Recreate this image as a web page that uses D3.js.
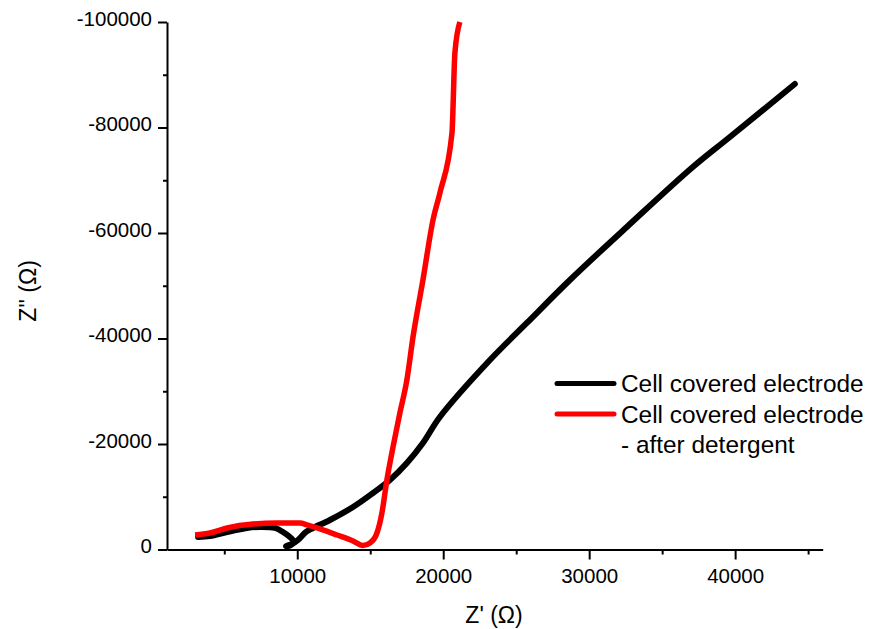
<!DOCTYPE html>
<html>
<head>
<meta charset="utf-8">
<script src="https://cdn.jsdelivr.net/npm/d3@7"></script>
<style>
  body { margin: 0; background: #fff; }
  svg { font-family: "Liberation Sans", Arial, sans-serif; }
  .axis path, .axis line { stroke: #000; stroke-width: 2px; }
  .axis text { font-size: 20.5px; fill: #000; }
</style>
</head>
<body>
<div id="content"></div>
<script>
// Z' (ohm) and Z'' (ohm)
const blackZre = [3200, 4020, 5190, 6560, 7450, 8470, 9020, 9570, 9770, 9430, 9230, 9640, 10050, 10600, 11080, 12240, 13820, 15190, 16350, 17510, 18610, 19770, 23200, 25730, 28680, 32580, 37100, 39640, 44090];
const blackZim = [-2370, -2560, -3320, -4080, -4270, -4080, -3320, -2180, -1420, -660, -660, -1040, -1800, -3320, -4080, -5590, -8060, -10710, -13180, -16400, -20190, -25120, -35920, -42940, -51090, -61140, -72510, -78200, -88250];

const redZre = [3000, 4020, 5190, 6970, 8610, 10190, 10660, 11560, 12720, 13820, 14500, 14980, 15460, 15800, 16140, 16560, 17030, 17510, 17930, 18610, 19300, 19770, 20600, 20800, 21140];
const redZim = [-2750, -3130, -4080, -4830, -5020, -5020, -4650, -3890, -2750, -1610, -760, -1230, -3130, -6920, -13180, -19430, -25880, -32130, -40280, -51090, -62460, -67580, -78960, -94120, -100000];

const xMajor = [10000, 20000, 30000, 40000];
const xMinor = [5000, 15000, 25000, 35000, 45000];
const yMajor = [0, -20000, -40000, -60000, -80000, -100000];
const yMinor = [-10000, -30000, -50000, -70000, -90000];

const seriesNames = ['Cell covered electrode', 'Cell covered electrode'];
const seriesColors = ['#000000', '#ff0000'];

const width = 875, height = 629;

let svg = d3.select('#content')
            .append('svg')
            .attr('width', width)
            .attr('height', height);

let x = d3.scaleLinear()
          .domain([1075, 46000])
          .range([167, 822.7]);

let y = d3.scaleLinear()
          .domain([0, -100000])
          .range([549.5, 22]);

// minor ticks first, then the main axes on top
svg.append('g')
   .attr('class', 'axis')
   .attr('transform', 'translate(0,' + y(0) + ')')
   .call(d3.axisBottom(x).tickValues(xMinor).tickSize(5).tickFormat(''))
   .select('.domain').remove();

svg.append('g')
   .attr('class', 'axis')
   .attr('transform', 'translate(' + x.range()[0] + ',0)')
   .call(d3.axisLeft(y).tickValues(yMinor).tickSize(4).tickFormat(''))
   .select('.domain').remove();

let xAxis = svg.append('g')
   .attr('class', 'axis')
   .attr('transform', 'translate(0,' + y(0) + ')')
   .call(d3.axisBottom(x).tickValues(xMajor).tickSize(10).tickSizeOuter(0).tickPadding(9)
           .tickFormat((d) => String(d)));

let yAxis = svg.append('g')
   .attr('class', 'axis')
   .attr('transform', 'translate(' + x.range()[0] + ',0)')
   .call(d3.axisLeft(y).tickValues(yMajor).tickSize(9).tickSizeOuter(0).tickPadding(6)
           .tickFormat((d) => d === 0 ? '0' : '-' + Math.abs(d)));
yAxis.selectAll('text').attr('dy', '0.16em');

// lines
let smooth = d3.line()
               .x((d) => x(d[0]))
               .y((d) => y(d[1]))
               .curve(d3.curveCatmullRom.alpha(0.5));

// red Z' only increases, so a monotone curve keeps the dip round without overshoot
let monotone = d3.line()
                 .x((d) => x(d[0]))
                 .y((d) => y(d[1]))
                 .curve(d3.curveMonotoneX);

let blackData = blackZre.map((v, i) => [v, blackZim[i]]);
let redData = redZre.map((v, i) => [v, redZim[i]]);

svg.append('path')
   .datum(blackData)
   .attr('d', smooth)
   .attr('fill', 'none')
   .attr('stroke', seriesColors[0])
   .attr('stroke-width', 6)
   .attr('stroke-linejoin', 'round')
   .attr('stroke-linecap', 'round');

svg.append('path')
   .datum(redData)
   .attr('d', monotone)
   .attr('fill', 'none')
   .attr('stroke', seriesColors[1])
   .attr('stroke-width', 5.5)
   .attr('stroke-linejoin', 'round')
   .attr('stroke-linecap', 'butt');

// axis titles
svg.append('text')
   .attr('x', 494)
   .attr('y', 623)
   .attr('text-anchor', 'middle')
   .style('font-size', '23px')
   .text("Z' (\u03A9)");

svg.append('text')
   .attr('transform', 'translate(36,291) rotate(-90)')
   .attr('text-anchor', 'middle')
   .style('font-size', '23px')
   .text("Z'' (\u03A9)");

// legend
let legend = svg.append('g');
seriesNames.forEach((name, i) => {
  let ly = 383.5 + i * 30.5;
  legend.append('line')
        .attr('x1', 557).attr('x2', 614)
        .attr('y1', ly).attr('y2', ly)
        .attr('stroke', seriesColors[i])
        .attr('stroke-width', 5)
        .attr('stroke-linecap', 'round');
  legend.append('text')
        .attr('x', 621)
        .attr('y', ly + 8.5)
        .style('font-size', '24.4px')
        .text(name);
});
legend.append('text')
      .attr('x', 621)
      .attr('y', 383.5 + 2 * 30.5 + 8.5)
      .style('font-size', '24.4px')
      .text('- after detergent');
</script>
</body>
</html>
